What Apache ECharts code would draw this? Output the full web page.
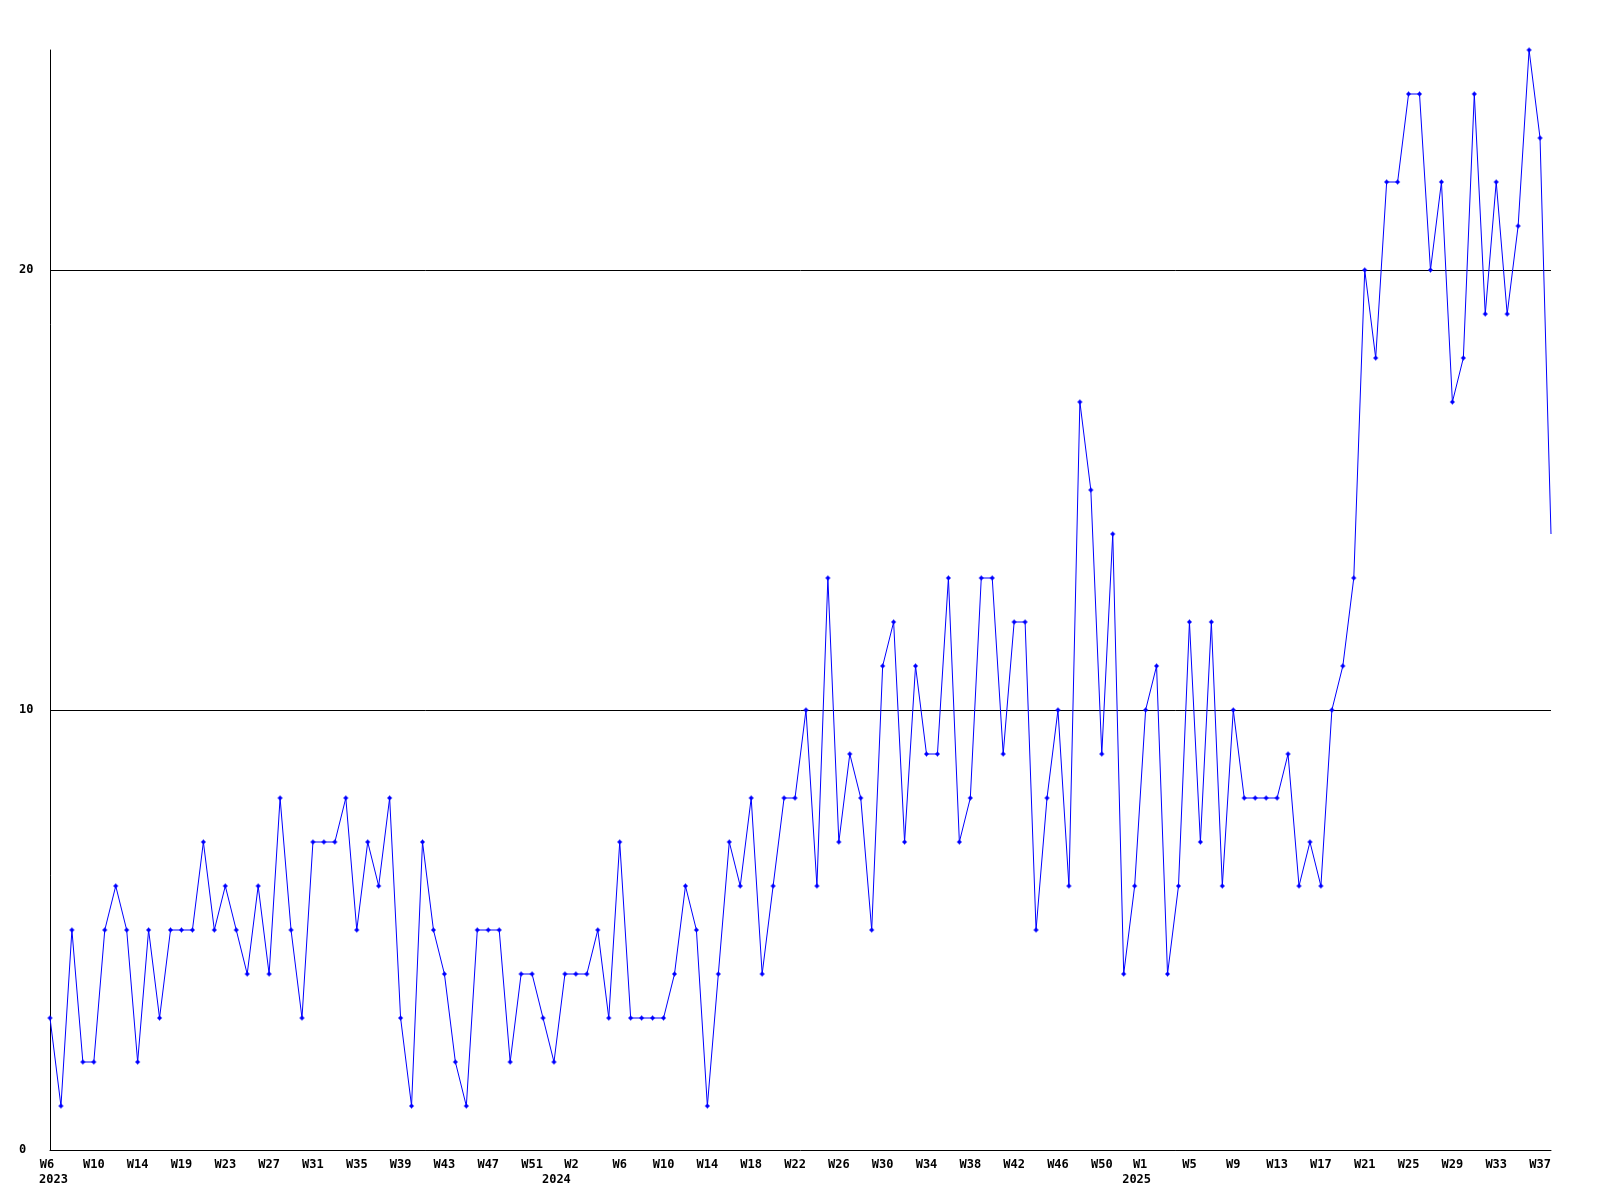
<!DOCTYPE html>
<html>
<head>
<meta charset="utf-8">
<script src="https://cdn.jsdelivr.net/npm/echarts@6/dist/echarts.min.js"></script>
<style>
  html, body { margin: 0; padding: 0; background: #ffffff; }
  #chart { width: 1600px; height: 1200px; }
</style>
</head>
<body>
<div id="chart"></div>
<script>
// ---- data ----
const weeks2023 = [6,7,8,9,10,11,12,13,14,16,17,18,19,20,21,22,23,24,25,26,27,28,29,30,31,32,33,34,35,36,37,38,39,40,41,42,43,44,45,46,47,48,49,50,51,52];
const weeks2024 = [0,1,2,3,4,5,6,7,8,9,10,11,12,13,14,15,16,17,18,19,20,21,22,23,24,25,26,27,28,29,30,31,32,33,34,35,36,37,38,39,40,41,42,43,44,45,46,47,48,49,50,51,52];
const weeks2025 = [0,1,2,3,4,5,6,7,8,9,10,11,12,13,14,15,16,17,18,19,20,21,22,23,24,25,26,27,28,29,30,31,32,33,34,35,36,37,38];

const values2023 = [3,1,5,2,2,5,6,5,2,5,3,5,5,5,7,5,6,5,4,6,4,8,5,3,7,7,7,8,5,7,6,8,3,1,7,5,4,2,1,5,5,5,2,4,4,3];
const values2024 = [2,4,4,4,5,3,7,3,3,3,3,4,6,5,1,4,7,6,8,4,6,8,8,10,6,13,7,9,8,5,11,12,7,11,9,9,13,7,8,13,13,9,12,12,5,8,10,6,17,15,9,14,4];
const values2025 = [6,10,11,4,6,12,7,12,6,10,8,8,8,8,9,6,7,6,10,11,13,20,18,22,22,24,24,20,22,17,18,24,19,22,19,21,25,23,14];

// tick labels shown every 4th category, with the year under the first one of each year
const yearTickLabels = { '2023-W6': '2023', '2024-W2': '2024', '2025-W1': '2025' };
const yValueTicks = [0, 10, 20];

// ---- build ----
const categories = [];
weeks2023.forEach(w => categories.push('2023-W' + w));
weeks2024.forEach(w => categories.push('2024-W' + w));
weeks2025.forEach(w => categories.push('2025-W' + w));
const values = values2023.concat(values2024, values2025);
const seriesData = values.map((v, i) => i === values.length - 1 ? { value: v, symbol: 'none' } : v);

const FONT = 'DejaVu Sans Mono';
const baseTok = { fontFamily: FONT, fontWeight: 'bold', fontSize: 12, lineHeight: 15.5, color: '#000', align: 'center' };
const richStyles = {
  w2023: Object.assign({}, baseTok, { padding: [0, 6, 0, 0] }),
  y2023: Object.assign({}, baseTok, { padding: [0, 0, 0, 7] }),
  w2024: Object.assign({}, baseTok, { padding: [0, 9, 0, 0] }),
  y2024: Object.assign({}, baseTok, { padding: [0, 39, 0, 0] }),
  w2025: Object.assign({}, baseTok, { padding: [0, 11, 0, 0] }),
  y2025: Object.assign({}, baseTok, { padding: [0, 18, 0, 0] })
};

const chart = echarts.init(document.getElementById('chart'), null, { renderer: 'canvas' });
chart.setOption({
  animation: false,
  backgroundColor: '#ffffff',
  grid: { left: 50, right: 49, top: 50, bottom: 50, containLabel: false, outerBoundsMode: 'none' },
  xAxis: {
    type: 'category',
    data: categories,
    boundaryGap: false,
    axisLine: { show: true, lineStyle: { color: '#000', width: 1 } },
    axisTick: { show: false },
    splitLine: { show: false },
    axisLabel: {
      interval: 3,
      margin: 7,
      fontFamily: FONT,
      fontWeight: 'bold',
      fontSize: 12,
      lineHeight: 15.5,
      color: '#000',
      hideOverlap: false,
      rich: richStyles,
      formatter: function (value) {
        const parts = value.split('-');
        const year = parts[0], wk = parts[1];
        if (yearTickLabels[value]) {
          return '{w' + year + '|' + wk + '}\n{y' + year + '|' + yearTickLabels[value] + '}';
        }
        return wk;
      }
    }
  },
  yAxis: {
    type: 'value',
    min: 0,
    max: 25,
    interval: 10,
    axisLine: { show: true, lineStyle: { color: '#000', width: 1 } },
    axisTick: { show: false },
    splitLine: { show: true, showMinLine: false, showMaxLine: false, lineStyle: { color: '#000', width: 1 } },
    axisLabel: {
      showMaxLabel: false,
      align: 'left',
      margin: 31,
      fontFamily: FONT,
      fontWeight: 'bold',
      fontSize: 12,
      color: '#000',
      formatter: function (v) { return yValueTicks.indexOf(v) >= 0 ? String(v) : ''; }
    }
  },
  series: [{
    type: 'line',
    data: seriesData,
    showSymbol: true,
    showAllSymbol: true,
    symbol: 'path://M2,0H3V1H4V2H5V3H4V4H3V5H2V4H1V3H0V2H1V1H2Z',
    symbolSize: 5,
    symbolKeepAspect: true,
    lineStyle: { color: '#0000ff', width: 1 },
    itemStyle: { color: '#0000ff' },
    emphasis: { disabled: true },
    clip: false
  }]
});
</script>
</body>
</html>
